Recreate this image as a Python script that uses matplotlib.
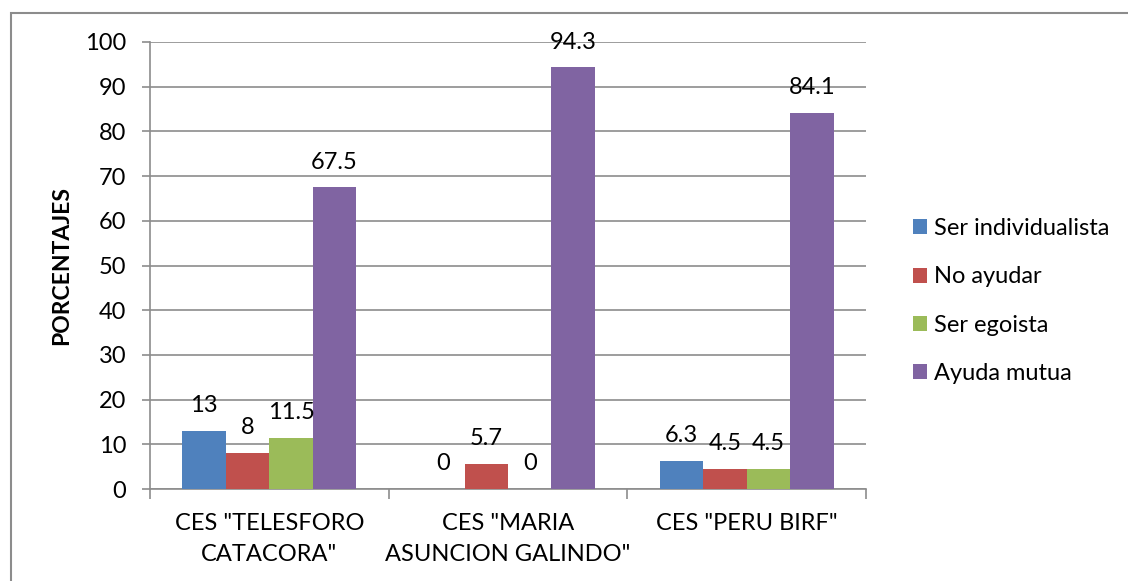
import numpy as np
import matplotlib.pyplot as plt
from matplotlib.patches import Rectangle

plt.rcParams['font.family'] = ['Lato', 'DejaVu Sans']

# Data
categories = ['CES "TELESFORO\nCATACORA"', 'CES "MARIA\nASUNCION GALINDO"', 'CES "PERU BIRF"']
series = ['Ser individualista', 'No ayudar', 'Ser egoista', 'Ayuda mutua']
values = [
    [13, 0, 6.3],
    [8, 5.7, 4.5],
    [11.5, 0, 4.5],
    [67.5, 94.3, 84.1],
]
labels = [
    ['13', '0', '6.3'],
    ['8', '5.7', '4.5'],
    ['11.5', '0', '4.5'],
    ['67.5', '94.3', '84.1'],
]
colors = ['#4F81BD', '#C0504D', '#9BBB59', '#8064A2']

W, H = 1128, 581
fig = plt.figure(figsize=(W / 100, H / 100), dpi=100)
ax = fig.add_axes([150 / W, 1 - 489 / H, (866 - 150) / W, (489 - 42) / H])

# chart border (only left and top visible)
fig.patches.append(Rectangle((11 / W, -0.1), 1.2, 1 - 13 / H + 0.1, transform=fig.transFigure,
                             fill=False, edgecolor='#8c8c8c', linewidth=1.5))

x = np.arange(len(categories))
bw = 0.182
for i, s in enumerate(series):
    pos = x + (i - 1.5) * bw
    ax.bar(pos, values[i], bw, color=colors[i], label=s, zorder=3)
    for px, v, lab in zip(pos, values[i], labels[i]):
        ax.annotate(lab, (px, v), xytext=(0, 13.5), textcoords='offset points',
                    ha='center', va='baseline', fontsize=17, color='black', zorder=4)

ax.set_xlim(-0.5, 2.5)
ax.set_ylim(0, 100)
ax.set_yticks(range(0, 101, 10))
ax.yaxis.grid(True, color='#8c8c8c', linewidth=1.2, zorder=0)
ax.set_axisbelow(True)

ax.set_xticks([-0.5, 0.5, 1.5, 2.5])
ax.set_xticklabels([])
ax.set_xticks(x, minor=True)
ax.set_xticklabels(categories, minor=True, fontsize=17, linespacing=1.6)
ax.tick_params(axis='x', which='minor', length=0, pad=17)
ax.tick_params(axis='x', which='major', length=7, width=1.2, color='#8c8c8c')
ax.tick_params(axis='y', length=6, width=1.2, color='#8c8c8c', labelsize=17, pad=11)

for sp in ['top', 'right']:
    ax.spines[sp].set_visible(False)
for sp in ['left', 'bottom']:
    ax.spines[sp].set_color('#8c8c8c')
    ax.spines[sp].set_linewidth(1.2)

fig.text(62 / W, 1 - 266 / H, 'PORCENTAJES', rotation=90, ha='center', va='center',
         fontsize=16.5, fontweight='bold')

leg = fig.legend(loc='upper left', bbox_to_anchor=(892 / W, 1 - 197 / H), frameon=False,
                 fontsize=17, handlelength=0.6, handleheight=0.6, handletextpad=0.3,
                 labelspacing=1.15)

fig.savefig('out.png', dpi=100)
